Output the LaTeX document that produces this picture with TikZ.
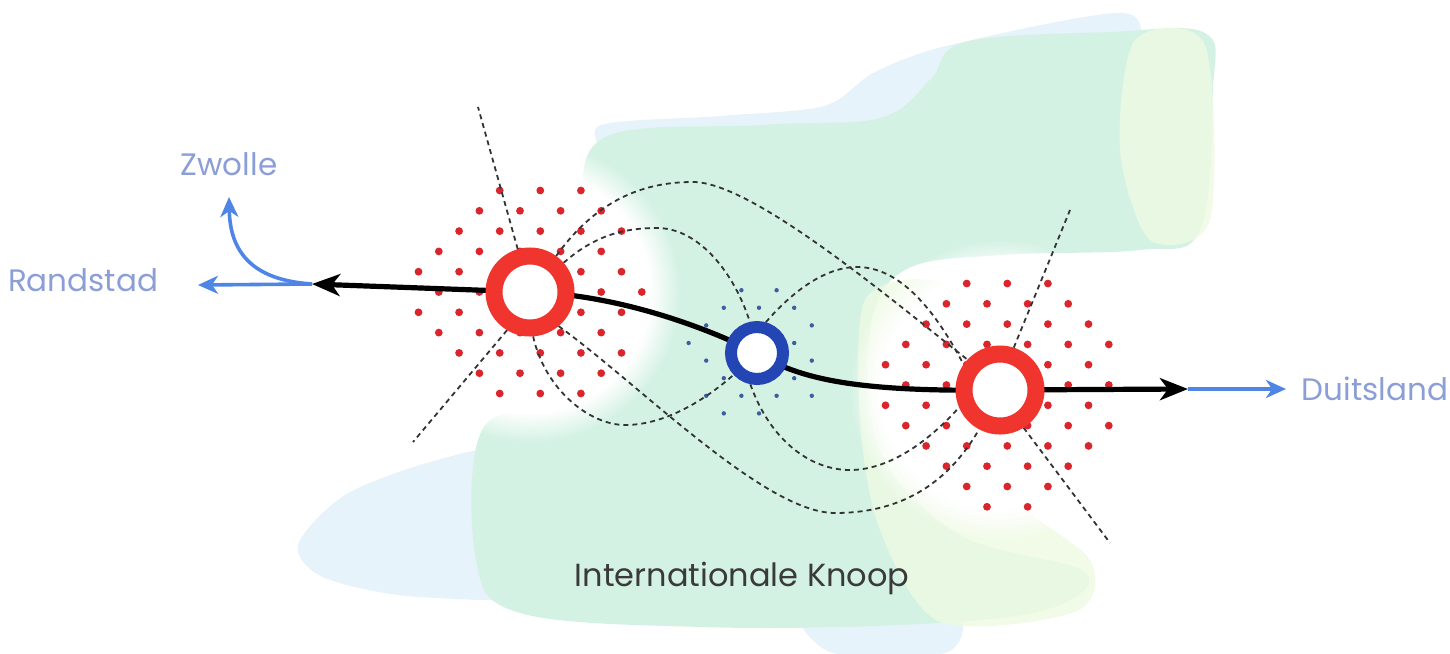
\documentclass[tikz,border=0pt]{standalone}
\usepackage{fontspec}
\setmainfont{Poppins}
\usetikzlibrary{arrows.meta,backgrounds,fadings}

\definecolor{ringred}{HTML}{F0342E}
\definecolor{dotred}{HTML}{D9252B}
\definecolor{ringblue}{HTML}{2446B5}
\definecolor{dotblue}{HTML}{3E5E9E}
\definecolor{arrowblue}{HTML}{4F86E6}
\definecolor{labelblue}{HTML}{8C9ED6}
\definecolor{textgray}{HTML}{3A3A3A}
\definecolor{blobgreen}{HTML}{D4F2E4}
\definecolor{blobblue}{HTML}{E7F3FA}
\definecolor{blobyellow}{HTML}{EEFAE2}

\begin{document}
\begin{tikzpicture}[x=0.5pt,y=-0.5pt,
    redring/.style={circle,draw=ringred,fill=white,line width=8.5pt,minimum size=36pt,inner sep=0pt},
    bluering/.style={circle,draw=ringblue,fill=white,line width=6pt,minimum size=26pt,inner sep=0pt},
    cityname/.style={text=labelblue,font=\fontsize{15.5}{18}\selectfont},
    mainline/.style={line width=2.6pt,arrows={Stealth[length=14pt,width=11pt,inset=4pt]-Stealth[length=14pt,width=11pt,inset=4pt]}},
    bluearrow/.style={draw=arrowblue,line width=1.8pt,arrows={-Stealth[length=10pt,width=9pt,inset=3pt]}},
    dashline/.style={draw=black!80,line width=0.9pt,dash pattern=on 2.5pt off 2pt},
    halo/.style={fill=white,path fading=circle with fuzzy edge 20 percent}]
    \useasboundingbox (0,0) rectangle (1450,653);
    % stations
    \node[redring] (L) at (530,292) {};
    \node[bluering] (M) at (757,353) {};
    \node[redring] (R) at (1000,390) {};
    \coordinate (wl) at (312,284);
    \coordinate (el) at (1188,389);
    \coordinate (rtip) at (198,285);
    \coordinate (ztip) at (229,197);
    \coordinate (dtip) at (1286,389);
    \coordinate (ltop) at (478,107);
    \coordinate (lbot) at (413,442);
    \coordinate (rtop) at (1070,210);
    \coordinate (rbot) at (1110,543);
    % labels
    \node[cityname] (zwolle) at (229,164) {Zwolle};
    \node[cityname] (randstad) at (83,280) {Randstad};
    \node[cityname] (duitsland) at (1375,389) {Duitsland};
    \node[text=textgray,font=\fontsize{16}{20}\selectfont] (knoop) at (742,578) {Internationale Knoop};
    \begin{scope}[on background layer]
    % landscape
    \fill[blobblue] plot[smooth cycle] coordinates {(597,127) (720,116) (824,106) (875,72) (950,45) (1124,13) (1140,60) (1135,110) (900,150) (650,175)};
    \fill[blobblue] plot[smooth cycle] coordinates {(298,545) (345,495) (430,462) (520,445) (570,480) (565,590) (420,597) (325,578)};
    \fill[blobblue] plot[smooth cycle] coordinates {(800,600) (950,605) (948,652) (830,652)};
    \fill[blobgreen] plot[smooth cycle, tension=0.6] coordinates {(600,140) (760,125) (880,118) (930,80) (965,42) (1110,32) (1205,33) (1213,90) (1200,230) (1140,250) (1000,255) (905,270) (870,330) (880,450) (960,535) (1085,572) (1045,610) (900,625) (700,627) (520,613) (476,560) (482,430) (560,400) (640,330) (592,240)};
    \fill[blobyellow, opacity=0.8] plot[smooth cycle] coordinates {(1135,40) (1205,45) (1210,220) (1150,240) (1120,150)};
    \fill[blobyellow, opacity=0.8] plot[smooth cycle] coordinates {(865,300) (930,280) (980,320) (1000,480) (1090,560) (1075,612) (940,622) (880,530) (860,420)};
    \fill[halo] (L.center) circle (150);
    \fill[halo] (R.center) circle (150);
    % dot fields
    \foreach \i in {-6,...,6}
      \foreach \j in {-6,...,6}{
        \pgfmathtruncatemacro\keep{and(mod(\i+\j+20,2)==0,(\i*2.03-1)^2+(\j*2.03)^2<139)}
        \ifnum\keep=1 \fill[dotred] (520+\i*20.3,292+\j*20.3) circle (3.9); \fi
        \pgfmathtruncatemacro\keep{and(mod(\i+\j+20,2)==0,(\i*2.03-1.3)^2+(\j*2.03-0.5)^2<146)}
        \ifnum\keep=1 \fill[dotred] (987+\i*20.3,385+\j*20.3) circle (3.9); \fi
        \pgfmathtruncatemacro\keep{and(mod(\i+\j+20,2)==0,and((\i*1.76+0.2)^2+(\j*1.76-1)^2>13,(\i*1.76+0.2)^2+(\j*1.76-1)^2<49))}
        \ifnum\keep=1 \fill[dotblue] (759+\i*17.6,343+\j*17.6) circle (2.2); \fi
      }
    % links
    \draw[dashline] (L.106) -- (ltop);
    \draw[dashline] (L.239) -- (lbot);
    \draw[dashline] (L.54) .. controls (600,195) and (650,182) .. (693,182) .. controls (750,182) and (880,290) .. (R.137);
    \draw[dashline] (L.41) .. controls (595,235) and (625,228) .. (657,228) .. controls (700,228) and (735,275) .. (M.103);
    \draw[dashline] (M.74) .. controls (785,300) and (820,267) .. (857,267) .. controls (900,267) and (935,310) .. (R.145);
    \draw[dashline] (L.274) .. controls (545,390) and (590,425) .. (625,425) .. controls (665,425) and (705,400) .. (M.223);
    \draw[dashline] (L.310) .. controls (640,385) and (765,513) .. (835,513) .. controls (905,513) and (950,480) .. (R.242);
    \draw[dashline] (M.258) .. controls (770,440) and (810,470) .. (850,470) .. controls (890,470) and (930,440) .. (R.203);
    \draw[dashline] (R.72) -- (rtop);
    \draw[dashline] (R.302) -- (rbot);
    % directions
    \draw[bluearrow] (wl) -- (rtip);
    \draw[bluearrow] (wl) .. controls (250,280) and (230,250) .. (ztip);
    \draw[bluearrow] (el) -- (dtip);
    \draw[mainline] (wl) -- (L.center) .. controls (620,295) and (707,328) .. (M.center) .. controls (800,380) and (860,392) .. (R.center) -- (el);
    \end{scope}
\end{tikzpicture}
\end{document}
